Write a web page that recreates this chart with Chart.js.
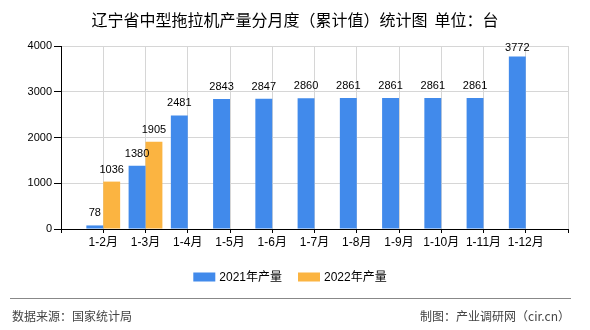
<!DOCTYPE html>
<html>
<head>
<meta charset="utf-8">
<script src="https://cdn.jsdelivr.net/npm/chart.js@4/dist/chart.umd.min.js"></script>
<style>
  body { margin: 0; background: #fff; }
  #wrap { position: relative; width: 590px; height: 330px; font-family: "Noto Sans CJK SC", sans-serif; }
  #title { position: absolute; left: 0; top: 9px; width: 590px; text-align: center; font-size: 16px; color: #000; line-height: 20px; white-space: pre; }
  #line { position: absolute; left: 10px; top: 298px; width: 561px; height: 1px; background: #888; }
  .foot { position: absolute; top: 308px; font-size: 12px; color: #444; line-height: 16px; }
</style>
</head>
<body>
<div id="wrap">
  <canvas id="chart" width="590" height="330"></canvas>
  <div id="title">辽宁省中型拖拉机产量分月度（累计值）统计图  单位：台</div>
  <div id="line"></div>
  <div class="foot" style="left:12px">数据来源：国家统计局</div>
  <div class="foot" style="right:20px">制图：产业调研网（cir.cn）</div>
</div>
<script>
// dados
var categorias = ['1-2月', '1-3月', '1-4月', '1-5月', '1-6月', '1-7月', '1-8月', '1-9月', '1-10月', '1-11月', '1-12月'];
var producao2021 = [78, 1380, 2481, 2843, 2847, 2860, 2861, 2861, 2861, 2861, 3772];
var producao2022 = [1036, 1905, null, null, null, null, null, null, null, null, null];
var yTicks = [0, 1000, 2000, 3000, 4000];

var numFont = '11px "Liberation Sans", "Noto Sans CJK SC", sans-serif';

// um espaço vazio em cada ponta do eixo
var labels = [''].concat(categorias, ['']);
function pad(arr) { return [null].concat(arr, [null]); }

var valueLabels = {
    id: 'valueLabels',
    afterDatasetsDraw: function(chart) {
        var ctx = chart.ctx;
        ctx.save();
        ctx.font = numFont;
        ctx.fillStyle = '#000';
        ctx.textAlign = 'center';
        ctx.textBaseline = 'alphabetic';
        chart.data.datasets.forEach(function(ds, i) {
            var meta = chart.getDatasetMeta(i);
            meta.data.forEach(function(el, j) {
                var v = ds.data[j];
                if (v === null || v === undefined) return;
                var y = Math.max(el.y - 9, chart.chartArea.top + 5);
                ctx.fillText(String(v), el.x, y);
            });
        });
        ctx.restore();
    }
};

var legendBox = {
    id: 'legendBox',
    afterDraw: function(chart) {
        var ctx = chart.ctx;
        ctx.save();
        ctx.font = '12px "Liberation Sans", "Noto Sans CJK SC", sans-serif';
        ctx.textBaseline = 'middle';
        var items = chart.data.datasets.map(function(ds) {
            return { text: ds.label, color: ds.backgroundColor, w: 22 + 4 + ctx.measureText(ds.label).width };
        });
        var gap = 16;
        var total = items.reduce(function(s, it) { return s + it.w; }, 0) + gap * (items.length - 1);
        var x = 290 - total / 2;
        var y = 277;
        items.forEach(function(it) {
            ctx.fillStyle = it.color;
            ctx.fillRect(x, y - 4.5, 22, 9);
            ctx.fillStyle = '#000';
            ctx.fillText(it.text, x + 26, y + 1);
            x += it.w + gap;
        });
        ctx.restore();
    }
};

var ctxB = document.getElementById('chart').getContext('2d');
var grafico = new Chart(ctxB, {
    type: 'bar',
    data: {
        labels: labels,
        datasets: [{
            label: '2021年产量',
            data: pad(producao2021),
            backgroundColor: '#418AEB',
            categoryPercentage: 0.8,
            barPercentage: 1.0
        },
        {
            label: '2022年产量',
            data: pad(producao2022),
            backgroundColor: '#FBB441',
            categoryPercentage: 0.8,
            barPercentage: 1.0
        }]
    },
    options: {
        responsive: false,
        animation: false,
        layout: { padding: { left: 0, right: 22, top: 46, bottom: 76 } },
        plugins: {
            legend: { display: false },
            tooltip: { enabled: false }
        },
        scales: {
            x: {
                offset: false,
                grid: { offset: false, color: '#d6d6d6', tickColor: '#000', tickLength: 4 },
                border: { color: '#000' },
                ticks: { color: '#000', font: { size: 12, family: '"Liberation Sans", "Noto Sans CJK SC", sans-serif' }, padding: 2, maxRotation: 0, autoSkip: false },
                afterFit: function(s) { s.height = 25; }
            },
            y: {
                min: 0,
                max: 4000,
                afterBuildTicks: function(s) { s.ticks = yTicks.map(function(v) { return { value: v }; }); },
                grid: { color: '#d6d6d6', tickColor: '#000', tickLength: 7 },
                border: { color: '#000' },
                ticks: {
                    color: '#000',
                    font: { size: 11, family: '"Liberation Sans", sans-serif' },
                    padding: 2,
                    callback: function(v) { return String(v); }
                },
                afterFit: function(s) { s.width = 61; }
            }
        }
    },
    plugins: [valueLabels, legendBox]
});
</script>
</body>
</html>
